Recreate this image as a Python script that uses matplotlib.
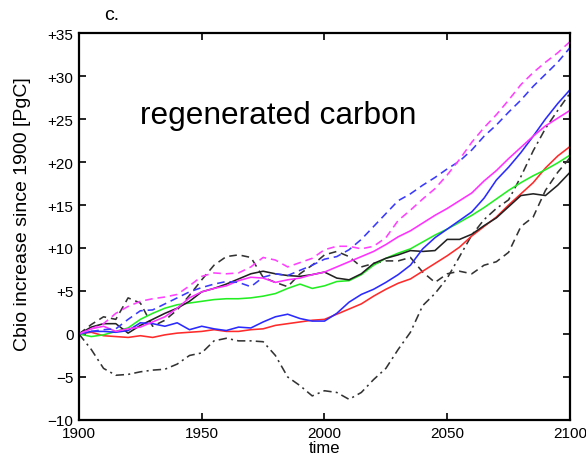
import matplotlib
matplotlib.use("Agg")
import matplotlib.pyplot as plt
from matplotlib.ticker import FuncFormatter
import numpy as np

plt.rcParams['font.family'] = ['Liberation Sans', 'DejaVu Sans']
plt.rcParams['lines.scale_dashes'] = False

years = list(range(1900, 2101, 5))

red_solid = [0, 0.2, -0.2, -0.3, -0.4, -0.2, -0.4, -0.1, 0.1, 0.2, 0.3,
             0.5, 0.3, 0.3, 0.5, 0.6, 1.0, 1.2, 1.4, 1.6, 1.7,
             2.3, 2.9, 3.5, 4.4, 5.2, 5.9, 6.4, 7.3, 8.2, 9.1,
             10.1, 11.4, 12.5, 13.6, 15.0, 16.3, 17.6, 19.3, 20.7, 21.8]

blue_solid = [0, 0.3, 0.3, 0.2, 0.4, 1.3, 1.2, 0.9, 1.3, 0.5, 0.9,
              0.6, 0.4, 0.8, 0.7, 1.4, 2.0, 2.3, 1.8, 1.5, 1.5,
              2.4, 3.7, 4.6, 5.2, 6.0, 6.9, 8.0, 9.9, 11.2, 12.2,
              13.2, 14.2, 15.8, 17.9, 19.4, 21.1, 23.0, 25.0, 26.8, 28.4]

magenta_solid = [0, 0.6, 0.9, 0.3, 0.6, 0.8, 1.4, 2.0, 3.0, 4.2, 4.9,
                 5.3, 5.6, 6.2, 6.6, 6.5, 6.0, 6.3, 6.5, 6.9, 7.2,
                 7.8, 8.4, 9.0, 9.6, 10.4, 11.3, 12.0, 12.9, 13.8, 14.6,
                 15.5, 16.4, 17.8, 19.0, 20.4, 21.7, 23.0, 24.2, 25.1, 26.0]

green_solid = [0, -0.3, -0.1, 0.3, 0.7, 1.7, 2.4, 3.0, 3.4, 3.6, 3.8,
               4.0, 4.1, 4.1, 4.2, 4.4, 4.7, 5.3, 5.8, 5.3, 5.6,
               6.1, 6.2, 6.9, 8.0, 8.8, 9.4, 9.9, 10.7, 11.5, 12.2,
               13.0, 13.8, 14.7, 15.7, 16.7, 17.6, 18.4, 19.1, 19.9, 20.8]

black_solid = [0, 0.8, 1.2, 1.2, 0.1, 1.0, 1.7, 2.4, 3.0, 3.8, 4.9,
               5.3, 5.8, 6.4, 7.0, 7.3, 7.0, 6.8, 6.7, 6.9, 7.2,
               6.5, 6.3, 7.0, 8.2, 8.8, 9.2, 9.7, 9.6, 9.7, 11.0,
               11.0, 11.6, 12.6, 13.5, 14.8, 16.1, 16.3, 16.1, 17.3, 18.8]

black_dashed = [0, 1.1, 2.0, 1.7, 4.2, 3.6, 0.9, 1.6, 2.8, 4.5, 6.3,
                8.0, 9.0, 9.2, 8.9, 6.6, 6.0, 5.5, 7.0, 8.0, 9.2,
                9.6, 9.0, 7.8, 8.2, 8.5, 8.5, 8.9, 7.2, 6.0, 7.0,
                7.3, 7.0, 8.0, 8.4, 9.5, 12.5, 13.6, 16.7, 18.8, 20.5]

black_dashdot = [0, -1.8, -4.0, -4.8, -4.7, -4.4, -4.2, -4.1, -3.5, -2.5, -2.2,
                 -0.8, -0.5, -0.8, -0.8, -0.9, -2.5, -5.0, -6.0, -7.2, -6.6,
                 -6.8, -7.6, -6.8, -5.3, -4.0, -1.8, 0.2, 3.3, 4.7, 6.5,
                 9.0, 11.5, 13.3, 14.6, 15.6, 18.3, 21.3, 23.9, 26.0, 28.0]

blue_dashed = [0, 0.3, 0.5, 0.6, 1.7, 2.7, 2.8, 3.5, 4.2, 4.9, 5.4,
               5.8, 6.1, 6.0, 5.5, 6.6, 7.0, 6.8, 7.4, 8.0, 8.7,
               9.0, 9.8, 11.0, 12.5, 14.0, 15.5, 16.3, 17.3, 18.2, 19.2,
               20.1, 21.4, 23.0, 24.3, 25.8, 27.2, 28.8, 30.2, 31.6, 33.3]

magenta_dashed = [0, 0.6, 1.2, 2.4, 3.2, 3.8, 4.1, 4.3, 4.6, 5.6, 6.7,
                  7.1, 7.0, 7.1, 7.8, 8.9, 8.6, 7.8, 8.3, 8.8, 9.8,
                  10.2, 10.2, 9.9, 10.2, 11.2, 13.2, 14.4, 15.7, 16.9, 18.5,
                  20.3, 22.3, 24.0, 25.5, 27.2, 29.0, 30.4, 31.6, 32.7, 34.0]

y_ticks = [-10, -5, 0, 5, 10, 15, 20, 25, 30, 35]
x_ticks = [1900, 1950, 2000, 2050, 2100]

fig = plt.figure(figsize=(5.86, 4.56), dpi=100)
ax = fig.add_axes([0.1348, 0.0768, 0.8379, 0.8486])

lw = 1.15
dash = (5.5, 3.5)
dashdot = (6, 3, 1.5, 3)
ax.plot(years, black_dashdot, color='#333333', lw=lw, dashes=dashdot)
ax.plot(years, black_dashed, color='#333333', lw=lw, dashes=dash)
ax.plot(years, red_solid, color='#ff2a2a', lw=lw)
ax.plot(years, green_solid, color='#22ee22', lw=lw)
ax.plot(years, black_solid, color='#222222', lw=lw)
ax.plot(years, blue_solid, color='#2a2aff', lw=lw)
ax.plot(years, magenta_solid, color='#ff30ff', lw=lw)
ax.plot(years, blue_dashed, color='#3a3aff', lw=lw, dashes=dash)
ax.plot(years, magenta_dashed, color='#ff40ff', lw=lw, dashes=dash)

ax.set_xlim(1900, 2100)
ax.set_ylim(-10, 35)
ax.set_xticks(x_ticks)
ax.set_yticks(y_ticks)

def yfmt(v, pos):
    v = int(round(v))
    if v > 0:
        return '+%d' % v
    if v < 0:
        return '\u2212%d' % (-v)
    return '0'

ax.yaxis.set_major_formatter(FuncFormatter(yfmt))
ax.tick_params(direction='in', length=5, width=1.2, top=True, right=True,
               labelsize=11, pad=4)
for s in ax.spines.values():
    s.set_linewidth(1.6)

ax.set_ylabel('Cbio increase since 1900 [PgC]', fontsize=14)
ax.yaxis.set_label_coords(-0.098, 0.534)
ax.set_xlabel('time', fontsize=12, labelpad=0)

ax.text(0.124, 0.788, 'regenerated carbon', transform=ax.transAxes,
        fontsize=22.8, ha='left', va='center')
fig.text(0.178, 0.965, 'c.', fontsize=14, ha='left', va='center')

fig.savefig('out.png', dpi=100)
